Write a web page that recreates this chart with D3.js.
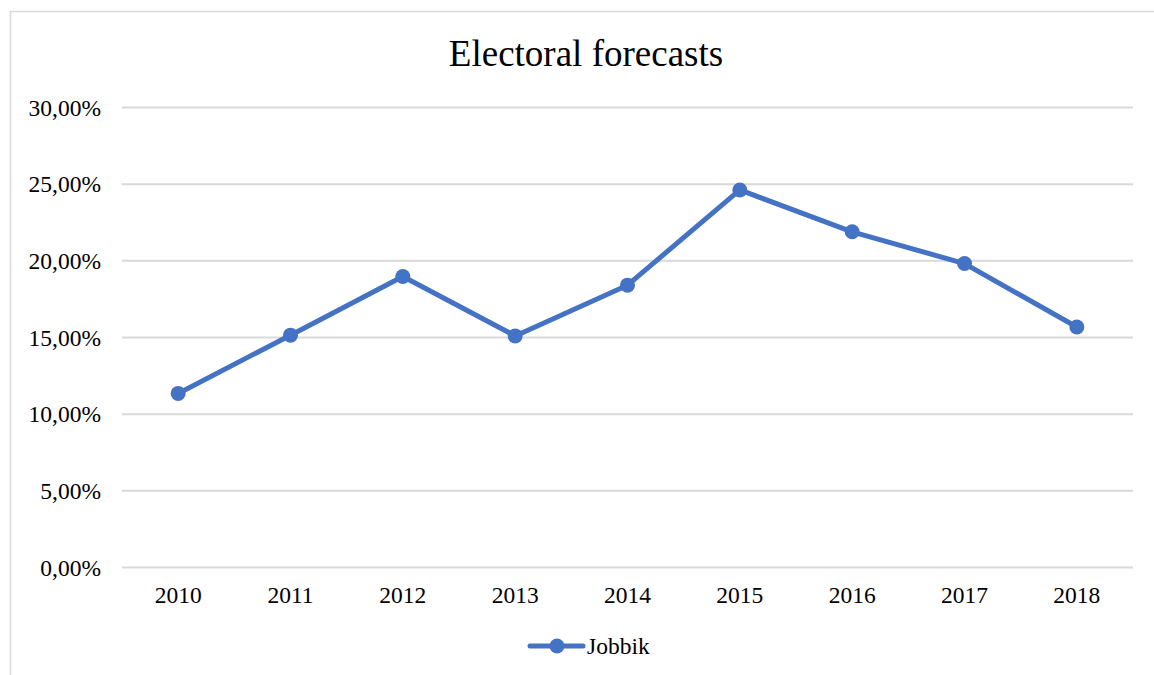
<!DOCTYPE html>
<html>
<head>
<meta charset="utf-8">
<script src="https://cdn.jsdelivr.net/npm/d3@7"></script>
<style>
  body { margin: 0; background: #fff; }
  text { font-family: "Liberation Serif", "Times New Roman", serif; fill: #000; }
</style>
</head>
<body>
<svg id="chart"></svg>
<script>
// data
let years = ['2010', '2011', '2012', '2013', '2014', '2015', '2016', '2017', '2018'];
let jobbik = [11.32, 15.12, 18.95, 15.07, 18.38, 24.59, 21.86, 19.79, 15.65];
let yTicks = [0, 5, 10, 15, 20, 25, 30];
let seriesName = 'Jobbik';
let title = 'Electoral forecasts';

let config = { svg: {}, plot: {} };
config.svg.width = 1154;
config.svg.height = 675;

config.plot.left = 122;
config.plot.right = 1133;
config.plot.top = 107;
config.plot.bottom = 567;

let blue = '#4472C4';
let font = '"Liberation Serif", "Times New Roman", serif';

let svg = d3.select('svg#chart')
  .attr('width', config.svg.width)
  .attr('height', config.svg.height);

// chart area border
svg.append('rect')
  .attr('x', 10.5)
  .attr('y', 11.5)
  .attr('width', 1160)
  .attr('height', 680)
  .attr('fill', 'white')
  .attr('stroke', '#d9d9d9')
  .attr('stroke-width', 1.5);

// scales
let scale = {};
scale.x = d3.scaleBand()
  .domain(years)
  .range([config.plot.left, config.plot.right]);

scale.y = d3.scaleLinear()
  .domain([0, 30])
  .range([config.plot.bottom, config.plot.top]);

// gridlines
let axis = {};
axis.grid = d3.axisLeft(scale.y)
  .tickValues(yTicks)
  .tickSize(-(config.plot.right - config.plot.left))
  .tickFormat('');

let gg = svg.append('g')
  .attr('transform', translate(config.plot.left, 0))
  .call(axis.grid);
gg.select('.domain').remove();
gg.selectAll('line').attr('stroke', '#d9d9d9').attr('stroke-width', 2);

// y axis labels
axis.y = d3.axisLeft(scale.y)
  .tickValues(yTicks)
  .tickSize(0)
  .tickPadding(0)
  .tickFormat(d => d3.format('.2f')(d).replace('.', ',') + '%');

let gy = svg.append('g')
  .attr('transform', translate(101, 0))
  .call(axis.y)
  .attr('font-family', font)
  .attr('font-size', 23.5);
gy.select('.domain').remove();
gy.selectAll('text')
  .attr('fill', '#000')
  .attr('dy', '0.35em');

// x axis labels
axis.x = d3.axisBottom(scale.x).tickSize(0).tickPadding(0);
let gx = svg.append('g')
  .attr('transform', translate(0, 586))
  .call(axis.x)
  .attr('font-family', font)
  .attr('font-size', 23.5);
gx.select('.domain').remove();
gx.selectAll('text')
  .attr('fill', '#000')
  .attr('dy', '0.72em');

// line
let points = years.map((y, i) => ({ year: y, value: jobbik[i] }));
let cx = d => scale.x(d.year) + scale.x.bandwidth() / 2;

let line = d3.line()
  .x(cx)
  .y(d => scale.y(d.value));

svg.append('path')
  .datum(points)
  .attr('d', line)
  .attr('fill', 'none')
  .attr('stroke', blue)
  .attr('stroke-width', 5)
  .attr('stroke-linejoin', 'round')
  .attr('stroke-linecap', 'round');

svg.selectAll('circle.pt')
  .data(points)
  .enter()
  .append('circle')
  .attr('class', 'pt')
  .attr('cx', cx)
  .attr('cy', d => scale.y(d.value))
  .attr('r', 7.5)
  .attr('fill', blue);

// title
svg.append('text')
  .attr('x', 586)
  .attr('y', 66)
  .attr('text-anchor', 'middle')
  .style('font-family', font)
  .style('font-size', '37px')
  .text(title);

// legend
let lg = svg.append('g').attr('transform', translate(0, 646));
lg.append('line')
  .attr('x1', 530).attr('x2', 583)
  .attr('y1', 0).attr('y2', 0)
  .attr('stroke', blue)
  .attr('stroke-width', 5)
  .attr('stroke-linecap', 'round');
lg.append('circle')
  .attr('cx', 557).attr('cy', 0).attr('r', 7.5)
  .attr('fill', blue);
lg.append('text')
  .attr('x', 587)
  .attr('y', 8)
  .style('font-family', font)
  .style('font-size', '23.5px')
  .text(seriesName);

function translate(x, y) {
  return 'translate(' + x + ',' + y + ')';
}
</script>
</body>
</html>
